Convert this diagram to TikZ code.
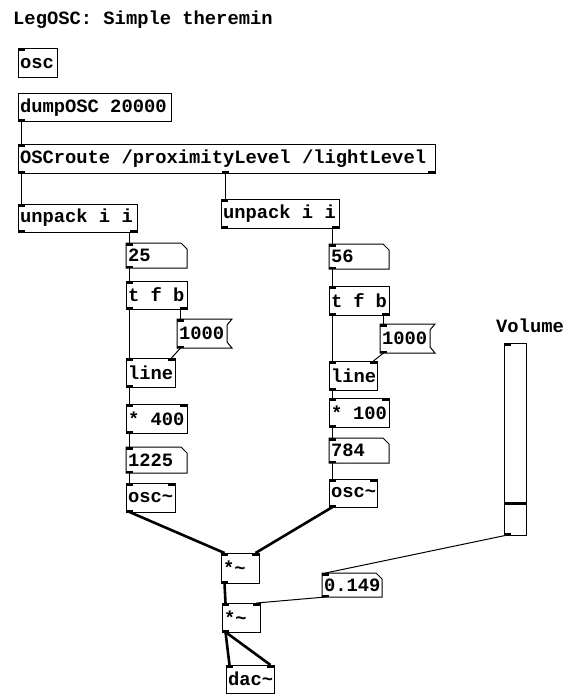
\documentclass[tikz,border=0pt]{standalone}
\usepackage{fontspec}
\newfontfamily\pdmono{Liberation Mono}
\usetikzlibrary{calc}
\newcommand{\pdfnt}{\pdmono\bfseries\fontsize{18.8}{20}\selectfont}
\tikzset{
  pd/.style={draw=black, line width=1pt, inner xsep=2pt, inner ysep=0pt, outer sep=0pt,
             anchor=north west, font=\pdfnt, align=flush left},
  pdn/.style={pd, draw=none},
  pdline/.style={line width=1pt},
  ctl/.style={line width=1pt},
  sig/.style={line width=2.6pt},
}
% name, x1, y1, x2, y2, text
\newcommand{\pdbox}[7][pd]{%
  \pgfmathsetmacro\pdw{#5-#3-4}%
  \pgfmathsetmacro\pdh{#6-#4}%
  \node[#1, text width=\pdw pt, minimum height=\pdh pt] (#2) at (#3,#4) {#7};
  \coordinate (#2-i0) at ([xshift=3.5pt]#2.north west);
  \coordinate (#2-i1) at ([xshift=-3.5pt]#2.north east);
  \coordinate (#2-o0) at ([xshift=3.5pt]#2.south west);
  \coordinate (#2-o1) at ([xshift=-3.5pt]#2.south east);
}
\newcommand{\numoutline}[1]{\draw[pdline] (#1.north west) -- ([xshift=-6pt]#1.north east) -- ([yshift=-6pt]#1.north east) -- (#1.south east) -- (#1.south west) -- cycle;}
\newcommand{\msgoutline}[1]{\draw[pdline] (#1.north west) -- (#1.north east) -- ([xshift=-5pt,yshift=-6pt]#1.north east) -- ([xshift=-5pt,yshift=6pt]#1.south east) -- (#1.south east) -- (#1.south west) -- cycle;}
\newcommand{\inL}[1]{\fill (#1.north west) rectangle ([xshift=7pt,yshift=-2.5pt]#1.north west);}
\newcommand{\inR}[1]{\fill (#1.north east) rectangle ([xshift=-7pt,yshift=-2.5pt]#1.north east);}
\newcommand{\outL}[1]{\fill (#1.south west) rectangle ([xshift=7pt,yshift=2.5pt]#1.south west);}
\newcommand{\outR}[1]{\fill (#1.south east) rectangle ([xshift=-7pt,yshift=2.5pt]#1.south east);}
\begin{document}
\begin{tikzpicture}[x=1pt,y=-1pt]
\useasboundingbox[fill=white] (0,0) rectangle (571,695);

% title comment
\node[anchor=base west, font=\pdfnt, inner sep=0pt] (title) at (13,25) {LegOSC: Simple theremin};

% top objects
\pdbox{osc}{18}{49}{57}{78}{osc}
\inL{osc}
\pdbox{dump}{18}{94}{171}{122}{dumpOSC 20000}
\outL{dump}
\pdbox{route}{18}{145}{435}{173}{OSCroute /proximityLevel /lightLevel}
\coordinate (route-o2) at ([xshift=207pt]route.south west);
\inL{route}\outL{route}\outR{route}
\fill ([xshift=-3.5pt]route-o2) rectangle ([xshift=3.5pt,yshift=2.5pt]route-o2);
\pdbox{unpL}{18}{204}{137}{232}{unpack i i}
\inL{unpL}\outL{unpL}\outR{unpL}
\pdbox{unpR}{221}{199}{339}{228}{unpack i i}
\inL{unpR}\outL{unpR}\outR{unpR}

% left chain
\pdbox[pdn]{numA}{126}{243}{187}{268}{25}
\numoutline{numA}\inL{numA}\outL{numA}
\pdbox{tfbL}{126}{281}{187}{309}{t f b}
\inL{tfbL}\outL{tfbL}\outR{tfbL}
\pdbox[pdn]{msgL}{177}{319}{232}{348}{1000}
\msgoutline{msgL}\inL{msgL}\outL{msgL}
\pdbox{lineL}{126}{358}{175}{387}{line}
\inL{lineL}\inR{lineL}\outL{lineL}
\pdbox{mulL}{126}{404}{187}{433}{* 400}
\inL{mulL}\inR{mulL}\outL{mulL}
\pdbox[pdn]{numB}{126}{447}{187}{473}{1225}
\numoutline{numB}\inL{numB}\outL{numB}
\pdbox{oscL}{126}{483}{175}{512}{osc\textasciitilde}
\inL{oscL}\inR{oscL}\outL{oscL}

% right chain
\pdbox[pdn]{numC}{329}{244}{389}{269}{56}
\numoutline{numC}\inL{numC}\outL{numC}
\pdbox{tfbR}{329}{286}{389}{315}{t f b}
\inL{tfbR}\outL{tfbR}\outR{tfbR}
\pdbox[pdn]{msgR}{380}{324}{435}{353}{1000}
\msgoutline{msgR}\inL{msgR}\outL{msgR}
\pdbox{lineR}{329}{361}{377}{390}{line}
\inL{lineR}\inR{lineR}\outL{lineR}
\pdbox{mulR}{329}{398}{389}{427}{* 100}
\inL{mulR}\inR{mulR}\outL{mulR}
\pdbox[pdn]{numD}{329}{438}{389}{463}{784}
\numoutline{numD}\inL{numD}\outL{numD}
\pdbox{oscR}{329}{479}{377}{507}{osc\textasciitilde}
\inL{oscR}\inR{oscR}\outL{oscR}

% signal multipliers and output
\pdbox{sm1}{221}{553}{259}{583}{*\textasciitilde}
\inL{sm1}\inR{sm1}\outL{sm1}
\pdbox{sm2}{222}{603}{260}{632}{*\textasciitilde}
\inL{sm2}\inR{sm2}\outL{sm2}
\pdbox[pdn]{numE}{322}{573}{382}{597}{0.149}
\numoutline{numE}\inL{numE}\outL{numE}
\pdbox{dac}{226}{665}{274}{693}{dac\textasciitilde}
\inL{dac}\inR{dac}

% volume slider
\node[anchor=center, font=\pdfnt, inner sep=0pt] (vlabel) at (530,326) {Volume};
\pdbox{slider}{504}{343}{526}{535}{}
\inL{slider}\outL{slider}
\draw[line width=3pt] ([yshift=-160pt]slider.north west) -- ([yshift=-160pt]slider.north east);

% control connections
\draw[ctl] (dump-o0) -- (route-i0);
\draw[ctl] (route-o0) -- (unpL-i0);
\draw[ctl] (route-o2) -- (route-o2 |- unpR.north);
\draw[ctl] (numA-i0 |- unpL.south) -- (numA-i0);
\draw[ctl] (numC-i0 |- unpR.south) -- (numC-i0);
\draw[ctl] (numA-o0) -- (tfbL-i0);
\draw[ctl] (tfbL-o0) -- (lineL-i0);
\draw[ctl] (msgL-i0 |- tfbL.south) -- (msgL-i0);
\draw[ctl] (msgL-o0) -- (lineL-i1);
\draw[ctl] (lineL-o0) -- (mulL-i0);
\draw[ctl] (mulL-o0) -- (numB-i0);
\draw[ctl] (numB-o0) -- (oscL-i0);
\draw[ctl] (numC-o0) -- (tfbR-i0);
\draw[ctl] (tfbR-o0) -- (lineR-i0);
\draw[ctl] (msgR-i0 |- tfbR.south) -- (msgR-i0);
\draw[ctl] (msgR-o0) -- (lineR-i1);
\draw[ctl] (lineR-o0) -- (mulR-i0);
\draw[ctl] (mulR-o0) -- (numD-i0);
\draw[ctl] (numD-o0) -- (oscR-i0);
\draw[ctl] (slider-o0) -- (numE-i0);
\draw[ctl] (numE-o0) -- (sm2-i1);

% signal connections
\draw[sig] (oscL-o0) -- (sm1-i0);
\draw[sig] (oscR-o0) -- (sm1-i1);
\draw[sig] (sm1-o0) -- (sm2-i0);
\draw[sig] (sm2-o0) -- (dac-i0);
\draw[sig] (sm2-o0) -- (dac-i1);
\end{tikzpicture}
\end{document}
